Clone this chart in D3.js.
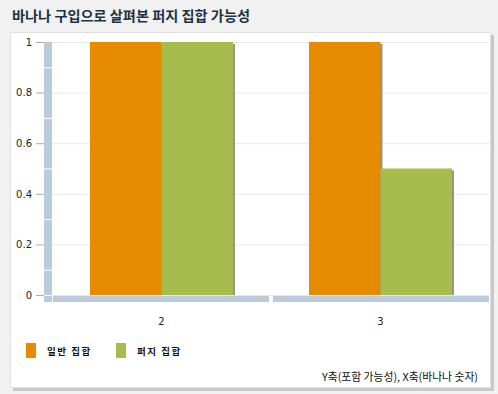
<!DOCTYPE html>
<html><head><meta charset="utf-8">
<script src="https://cdn.jsdelivr.net/npm/d3@7"></script>
<style>
html,body{margin:0;padding:0;background:#f1f1f1;}
svg{display:block;}
</style></head>
<body>
<script>
const title = "바나나 구입으로 살펴본 퍼지 집합 가능성";
const categories = ["2", "3"];
const seriesNames = ["일반 집합", "퍼지 집합"];
const seriesColors = ["#e68a00", "#a6bc4c"];
const crispValues = [1, 1];
const fuzzyValues = [1, 0.5];
const yTicks = [0, 0.2, 0.4, 0.6, 0.8, 1];
const footer = "Y축(포함 가능성), X축(바나나 숫자)";

const W = 498, H = 394;
const svg = d3.select("body").append("svg").attr("width", W).attr("height", H);
const kr = "'Noto Sans CJK KR', sans-serif";

// panel shadow + panel
svg.append("rect").attr("x", 13).attr("y", 35).attr("width", 481).attr("height", 356).attr("fill", "#c8c8c8");
svg.append("rect").attr("x", 10.5).attr("y", 32.5).attr("width", 480).attr("height", 355)
  .attr("fill", "#fff").attr("stroke", "#e2e2e2");

svg.append("text").attr("x", 12).attr("y", 21).text(title)
  .attr("font-family", kr).attr("font-weight", "bold").attr("font-size", 14.2).attr("fill", "#1c3346");

const plotL = 52, plotR = 490, plotT = 42, plotB = 295;
const x = d3.scaleBand().domain(categories).range([plotL, plotR]);
const y = d3.scaleLinear().domain([0, 1]).range([plotB, plotT]);
const inner = d3.scaleBand().domain([0, 1]).range([38, x.bandwidth() - 38]);

// gridlines
svg.append("g").selectAll("line").data(yTicks).join("line")
  .attr("x1", plotL).attr("x2", plotR).attr("y1", d => y(d) + 0.5).attr("y2", d => y(d) + 0.5)
  .attr("stroke", "#e8e8e8");

// wall
svg.append("rect").attr("x", 44).attr("y", y(1)).attr("width", 8).attr("height", plotB - y(1) + 7).attr("fill", "#b9cbdc");
const minor = d3.range(0.1, 1, 0.2);
svg.append("g").selectAll("line").data(minor).join("line")
  .attr("x1", 44).attr("x2", 52).attr("y1", d => y(d) + 0.5).attr("y2", d => y(d) + 0.5)
  .attr("stroke", "#fff");
svg.append("line").attr("x1", 44).attr("x2", 52).attr("y1", plotB + 0.5).attr("y2", plotB + 0.5).attr("stroke", "#fff");

// floor
categories.forEach((c, i) => {
  svg.append("rect").attr("x", x(c) + (i === 0 ? 1 : 2)).attr("y", plotB + 1)
    .attr("width", x.bandwidth() - 3).attr("height", 6).attr("fill", "#b9cbdc");
});

// axis
const yAxis = d3.axisLeft(y).tickValues(yTicks).tickFormat(d => String(d)).tickSize(8).tickPadding(4);
const ga = svg.append("g").attr("transform", "translate(44,0)").call(yAxis);
ga.select(".domain").remove();
ga.selectAll("line").attr("stroke", "#aaa");
ga.selectAll("text").attr("font-family", "'DejaVu Sans', sans-serif").attr("font-size", 10).attr("fill", "#222");

// bars
const data = categories.map((c, i) => ({c, vals: [crispValues[i], fuzzyValues[i]]}));
const g = svg.append("g");
data.forEach(d => {
  d.vals.forEach((v, k) => {
    const bx = x(d.c) + inner(k);
    g.append("rect").attr("x", bx + 2).attr("y", y(v) + 2).attr("width", inner.bandwidth()).attr("height", plotB - y(v) - 2)
      .attr("fill", "#7a7a6a").attr("opacity", 0.8);
    g.append("rect").attr("x", bx).attr("y", y(v)).attr("width", inner.bandwidth()).attr("height", plotB - y(v))
      .attr("fill", seriesColors[k]);
  });
});

// x labels
const xa = svg.append("g").attr("transform", `translate(0,${plotB})`)
  .call(d3.axisBottom(x).tickSize(0).tickPadding(23));
xa.select(".domain").remove();
xa.selectAll("text").attr("font-family", "'DejaVu Sans', sans-serif").attr("font-size", 10).attr("fill", "#222");

// legend
seriesNames.forEach((n, k) => {
  const lx = 26 + k * 90;
  svg.append("rect").attr("x", lx).attr("y", 343).attr("width", 10).attr("height", 15).attr("fill", seriesColors[k]);
  svg.append("text").attr("x", lx + 21).attr("y", 355).text(n)
    .attr("font-family", kr).attr("font-weight", "bold").attr("font-size", 9.5).attr("fill", "#111").attr("letter-spacing", 1.5);
});

svg.append("text").attr("x", 478).attr("y", 381).attr("text-anchor", "end").text(footer)
  .attr("font-family", kr).attr("font-size", 10.8).attr("fill", "#111");
</script>
</body></html>
